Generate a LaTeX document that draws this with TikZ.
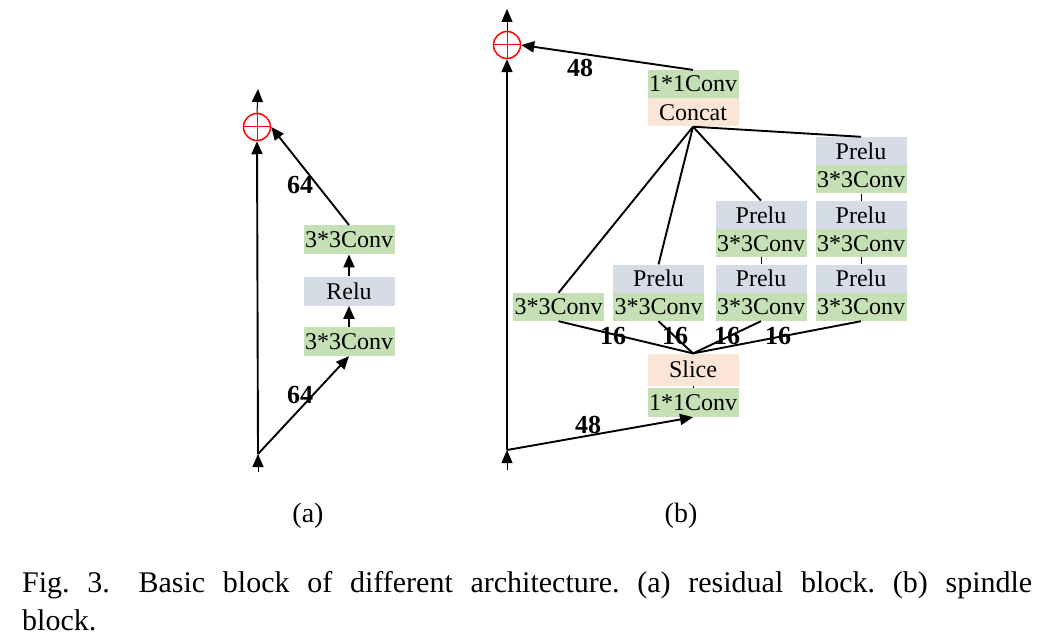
\documentclass[tikz,border=0pt]{standalone}
\usepackage{fontspec}
\setmainfont{Liberation Serif}
\usetikzlibrary{positioning}
\usetikzlibrary{arrows.meta}

\definecolor{convgreen}{HTML}{C5E0B4}
\definecolor{prelugray}{HTML}{D6DCE5}
\definecolor{slicepeach}{HTML}{FBE5D6}

\tikzset{
  blk/.style={inner sep=0pt, minimum width=91pt, minimum height=28pt,
    font=\fontsize{24}{24}\selectfont},
  conv/.style={blk, fill=convgreen},
  relu/.style={blk, fill=prelugray},
  peach/.style={blk, fill=slicepeach},
  addnode/.style={circle, draw=red, line width=1.5pt, minimum size=27pt, inner sep=0pt,
    path picture={\draw[red, line width=1pt]
      (path picture bounding box.north) -- (path picture bounding box.south)
      (path picture bounding box.west) -- (path picture bounding box.east);}},
  num/.style={font=\fontsize{26}{26}\selectfont\bfseries},
  flow/.style={line width=1.9pt},
  arr/.style={-{Triangle[length=13pt,width=11pt]}},
}

\begin{document}
\begin{tikzpicture}[x=1pt,y=-1pt]
   \useasboundingbox (0,0) rectangle (1051,639);
   % (a) residual block
   \coordinate (a_in) at (258,472);
   \coordinate (a_split) at (258,454);
   \coordinate (a_out) at (258,89);
   \node[addnode] (a_add) at (257,127) {};
   \node[conv, minimum height=29pt] (a_c1) at (349,341.5) {3*3Conv};
   \node[relu, minimum height=29pt, above=21pt of a_c1] (a_relu) {Relu};
   \node[conv, minimum height=29pt, above=22pt of a_relu] (a_c2) {3*3Conv};
   \path[arr, line width=1pt]
     (a_in) edge (a_split)
     (a_add.north) edge (a_out);
   \path[arr, flow]
     (a_split) edge (a_add.south)
     (a_split) edge (a_c1.south)
     (a_c1.north) edge (a_relu.south)
     (a_relu.north) edge (a_c2.south)
     (a_c2.north) edge (a_add.east);
   \node[num] (a_n1) at (300,395) {64};
   \node[num] (a_n2) at (300,185) {64};

   % (b) spindle block
   \coordinate (b_in) at (507,470);
   \coordinate (b_split) at (507,450);
   \coordinate (b_out) at (507,9);
   \node[addnode] (b_add) at (507,45) {};
   \node[conv, minimum height=29pt] (b_in11) at (693,402.5) {1*1Conv};
   \node[peach, minimum height=32pt, above=2pt of b_in11] (b_slice) {Slice};
   \node[peach] (b_concat) at (693,112.5) {Concat};
   \node[conv, above=0pt of b_concat] (b_out11) {1*1Conv};
   % branches
   \node[conv] (p1_c1) at (558.5,307) {3*3Conv};
   \node[conv] (p2_c1) at (658.5,307) {3*3Conv};
   \node[relu, above=0pt of p2_c1] (p2_r1) {Prelu};
   \node[conv] (p3_c1) at (761,307) {3*3Conv};
   \node[relu, above=0pt of p3_c1] (p3_r1) {Prelu};
   \node[conv, above=7pt of p3_r1] (p3_c2) {3*3Conv};
   \node[relu, above=0pt of p3_c2] (p3_r2) {Prelu};
   \node[conv] (p4_c1) at (861,307) {3*3Conv};
   \node[relu, above=0pt of p4_c1] (p4_r1) {Prelu};
   \node[conv, above=7pt of p4_r1] (p4_c2) {3*3Conv};
   \node[relu, above=0pt of p4_c2] (p4_r2) {Prelu};
   \node[conv, above=7pt of p4_r2] (p4_c3) {3*3Conv};
   \node[relu, above=0pt of p4_c3] (p4_r3) {Prelu};
   \path[arr, line width=1pt]
     (b_in) edge (b_split)
     (b_add.north) edge (b_out);
   \path[arr, flow]
     (b_split) edge (b_add.south)
     (b_split) edge (b_in11.south)
     (b_out11.north) edge (b_add.east);
   \path[line width=0.8pt]
     (b_in11.north) edge (b_slice.south)
     (p3_c2.south) edge (p3_r1.north)
     (p4_c3.south) edge (p4_r2.north)
     (p4_c2.south) edge (p4_r1.north);
   \path[flow]
     (b_concat.south) edge (p1_c1.north)
                      edge (p2_r1.north)
                      edge (p3_r2.north)
                      edge (p4_r3.north)
     (p1_c1.south) edge (b_slice.north)
     (p2_c1.south) edge (b_slice.north)
     (p3_c1.south) edge (b_slice.north)
     (p4_c1.south) edge (b_slice.north);
   \node[num] (b_n1) at (588,425) {48};
   \node[num] (b_n2) at (580,68) {48};
   \node[num] (b_s1) at (613,336) {16};
   \node[num] (b_s2) at (675,336) {16};
   \node[num] (b_s3) at (727,336) {16};
   \node[num] (b_s4) at (778,336) {16};

   % captions
   \node[anchor=base, font=\fontsize{28}{28}\selectfont] (cap_a) at (308,522) {(a)};
   \node[anchor=base, font=\fontsize{28}{28}\selectfont] (cap_b) at (681,522) {(b)};
   \node[anchor=base west, inner sep=0pt, font=\fontsize{30}{36}\selectfont] (fig_l1) at (22,592)
     {\frenchspacing\makebox[1010pt][s]{Fig. 3.\hspace{11pt} Basic block of different architecture. (a) residual block. (b) spindle}};
   \node[anchor=base west, inner sep=0pt, font=\fontsize{30}{36}\selectfont] (fig_l2) at (22,630) {block.};
\end{tikzpicture}
\end{document}
